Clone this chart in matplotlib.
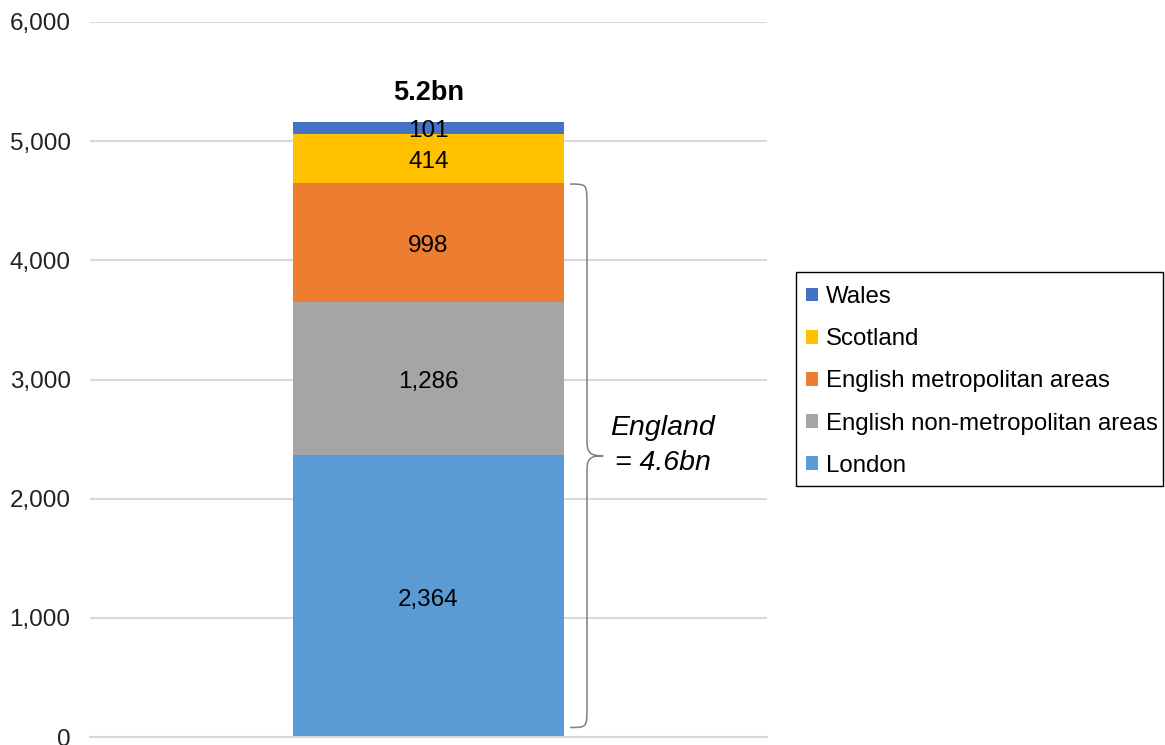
import matplotlib.pyplot as plt
from matplotlib.path import Path
from matplotlib.patches import PathPatch, Rectangle

plt.rcParams['font.family'] = ['Liberation Sans', 'DejaVu Sans']

# data (millions of journeys), stacked bottom to top
regions = ['London', 'English non-metropolitan areas', 'English metropolitan areas',
           'Scotland', 'Wales']
values = [2364, 1286, 998, 414, 101]
colors = ['#5B9BD5', '#A5A5A5', '#ED7D31', '#FFC000', '#4472C4']
total_label = '5.2bn'
england_label = 'England\n= 4.6bn'
y_ticks = [0, 1000, 2000, 3000, 4000, 5000, 6000]

fig = plt.figure(figsize=(11.65, 7.45), dpi=100)
ax = fig.add_axes([0.0773, 0.0107, 0.5811, 0.9598])

bottom = 0
bars = []
for name, v, c in zip(regions, values, colors):
    b = ax.bar(0, v, bottom=bottom, width=0.4, color=c, label=name, zorder=2)
    bars.append(b)
    ax.annotate(f'{v:,}', (0, bottom + v / 2), xytext=(0, -2.5), textcoords='offset points',
                ha='center', va='center', fontsize=17.5, color='black', zorder=3)
    bottom += v

# total above the bar
ax.annotate(total_label, (0, bottom), xytext=(0, 21), textcoords='offset points',
            ha='center', va='center', fontsize=19.5, fontweight='bold')

# curly brace for England
eng_top = sum(values[:3]) - 8
eng_bot = 80
ymid = (eng_top + eng_bot) / 2
x0, x1, x2 = 0.209, 0.234, 0.258
r = 170
r2 = 130
verts = [
    (x0, eng_top), (x1, eng_top), (x1, eng_top), (x1, eng_top - r),
    (x1, ymid + r2),
    (x1, ymid + 20), (x1 + 0.005, ymid), (x2, ymid),
    (x1 + 0.005, ymid), (x1, ymid - 20), (x1, ymid - r2),
    (x1, eng_bot + r),
    (x1, eng_bot), (x1, eng_bot), (x0, eng_bot),
]
codes = [Path.MOVETO, Path.CURVE4, Path.CURVE4, Path.CURVE4,
         Path.LINETO,
         Path.CURVE4, Path.CURVE4, Path.CURVE4,
         Path.CURVE4, Path.CURVE4, Path.CURVE4,
         Path.LINETO,
         Path.CURVE4, Path.CURVE4, Path.CURVE4]
ax.add_patch(PathPatch(Path(verts, codes), facecolor='none', edgecolor='#7F7F7F',
                       lw=1.1, zorder=3))
ax.text(0.346, ymid + 90, england_label, ha='center', va='center', fontsize=20.5,
        style='italic', linespacing=1.45)

ax.set_xlim(-0.5, 0.5)
ax.set_ylim(0, 6000)
ax.set_yticks(y_ticks)
ax.set_yticklabels([f'{t:,}' for t in y_ticks])
ax.set_xticks([])
ax.tick_params(axis='y', length=0, labelsize=17.5, pad=14, labelcolor='#222222')
ax.yaxis.grid(True, color='#D9D9D9', lw=1.5, zorder=0)
ax.set_axisbelow(True)
for s in ['top', 'right', 'left']:
    ax.spines[s].set_visible(False)
ax.spines['bottom'].set_color('#D9D9D9')
ax.spines['bottom'].set_linewidth(1.5)

# legend: entries without frame, box drawn separately
handles = bars[::-1]
labels = regions[::-1]
fig.legend(handles, labels, loc='upper left', bbox_to_anchor=(0.6918, 0.6161),
           borderaxespad=0, borderpad=0, fontsize=17.3, frameon=False,
           handlelength=0.5, handleheight=0.5, handletextpad=0.33, labelspacing=0.84)
fig.patches.append(Rectangle((0.6833, 0.3477), 0.3150, 0.2872, transform=fig.transFigure,
                             fill=False, edgecolor='black', lw=1.0))

fig.savefig('out.png', dpi=100)
